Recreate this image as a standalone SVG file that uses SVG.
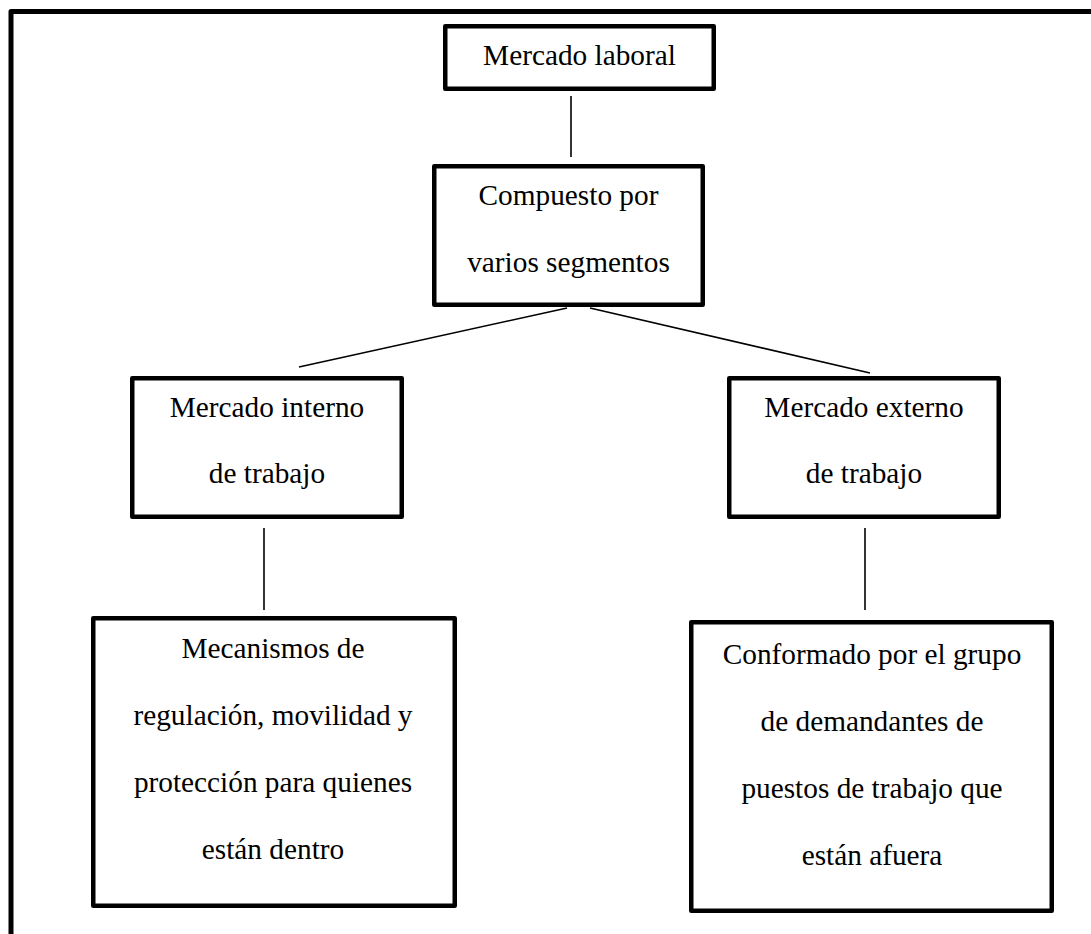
<svg xmlns="http://www.w3.org/2000/svg" width="1091" height="934" viewBox="0 0 1091 934">
<style>
.box{fill:#fff;stroke:#000;stroke-width:4.5;stroke-linejoin:round}
.frame{fill:none;stroke:#000;stroke-width:5;stroke-linejoin:round}
.con line{stroke:#000;stroke-width:1.6}
text{font-family:"Liberation Serif","Times New Roman",serif;font-size:29.3px;fill:#000;text-anchor:middle}
</style>
<rect width="1091" height="934" fill="#fff"/>
<path class="frame" d="M11,940 V11.5 H1100"/>
<g class="con" id="connectors">
<line x1="571" y1="96" x2="571" y2="157"/>
<line x1="567" y1="308" x2="299" y2="367"/>
<line x1="590" y1="308" x2="870" y2="373"/>
<line x1="264" y1="528" x2="264" y2="610"/>
<line x1="865" y1="528" x2="865" y2="610"/>
</g>
<g id="mercado-laboral">
<rect class="box" x="445.25" y="26.25" width="268.5" height="62.5"/>
<text x="579.5" y="65">Mercado laboral</text>
</g>
<g id="compuesto">
<rect class="box" x="434.25" y="166.25" width="268.5" height="138.5"/>
<text x="568.5" y="205">Compuesto por</text>
<text x="568.5" y="272">varios segmentos</text>
</g>
<g id="mercado-interno">
<rect class="box" x="132.25" y="378.25" width="269.5" height="138.5"/>
<text x="267" y="417">Mercado interno</text>
<text x="267" y="483">de trabajo</text>
</g>
<g id="mercado-externo">
<rect class="box" x="729.25" y="378.25" width="269.5" height="138.5"/>
<text x="864" y="417">Mercado externo</text>
<text x="864" y="483">de trabajo</text>
</g>
<g id="mecanismos">
<rect class="box" x="93.25" y="618.25" width="361.5" height="287.5"/>
<text x="273" y="658">Mecanismos de</text>
<text x="273" y="725">regulación, movilidad y</text>
<text x="273" y="792">protección para quienes</text>
<text x="273" y="859">están dentro</text>
</g>
<g id="conformado">
<rect class="box" x="691.25" y="622.25" width="360.5" height="288.5"/>
<text x="872" y="664">Conformado por el grupo</text>
<text x="872" y="731">de demandantes de</text>
<text x="872" y="798">puestos de trabajo que</text>
<text x="872" y="865">están afuera</text>
</g>
</svg>
